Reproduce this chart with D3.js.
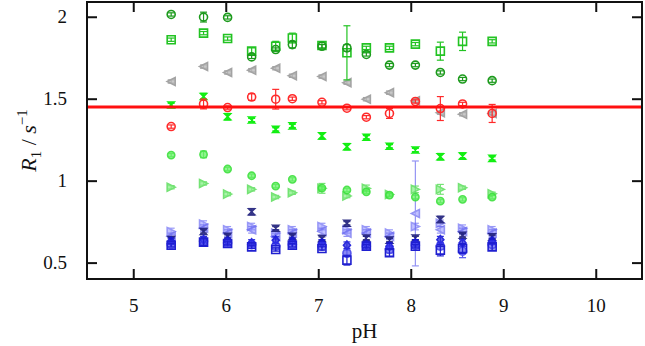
<!DOCTYPE html>
<html>
<head>
<meta charset="utf-8">
<script src="https://cdn.jsdelivr.net/npm/d3@7"></script>
<style>
  html, body { margin: 0; padding: 0; background: #fff; }
  svg { display: block; }
  text { font-family: 'Liberation Serif', 'DejaVu Serif', serif; }
</style>
</head>
<body>
<div id="chart"></div>
<script>
// pH columns
const phValues = [5.41, 5.76, 6.02, 6.28, 6.54, 6.72, 7.04, 7.31, 7.52, 7.77, 8.05, 8.32, 8.56, 8.88];

// R1 values for every series
const circleDark   = [2.014, 1.998, 1.996, 1.755, 1.80, 1.83, 1.82, 1.81, 1.77, 1.705, 1.705, 1.66, 1.62, 1.61];
const circleDarkErr = [0.01, 0.03, 0.01, 0.01, 0.01, 0.02, 0.01, 0.02, 0.01, 0.01, 0.01, 0.01, 0.01, 0.01];
const squareGreen  = [1.86, 1.90, 1.867, 1.79, 1.82, 1.87, 1.825, 1.78, 1.81, 1.81, 1.833, 1.79, 1.85, 1.85];
const squareGreenErr = [0.01, 0.01, 0.01, 0.02, 0.03, 0.03, 0.02, 0.165, 0.01, 0.01, 0.01, 0.055, 0.056, 0.01];
const triGray      = [1.605, 1.696, 1.66, 1.674, 1.686, 1.64, 1.635, 1.598, 1.497, 1.537, 1.487, 1.415, 1.405, 1.41];
const triGrayErr   = [0.01, 0.01, 0.01, 0.01, 0.01, 0.01, 0.01, 0.01, 0.01, 0.01, 0.01, 0.01, 0.01, 0.01];
const circleRed    = [1.33, 1.468, 1.446, 1.51, 1.497, 1.50, 1.478, 1.442, 1.387, 1.41, 1.483, 1.44, 1.468, 1.41];
const circleRedErr = [0.01, 0.03, 0.01, 0.02, 0.06, 0.01, 0.01, 0.01, 0.01, 0.03, 0.01, 0.073, 0.01, 0.055];
const hourGreen    = [1.462, 1.513, 1.39, 1.37, 1.313, 1.334, 1.273, 1.207, 1.265, 1.21, 1.187, 1.146, 1.15, 1.136];
const hourGreenErr = [0.01, 0.02, 0.02, 0.01, 0.01, 0.01, 0.02, 0.02, 0.01, 0.01, 0.01, 0.02, 0.02, 0.01];
const hexLight     = [1.156, 1.16, 1.071, 1.03, 0.967, 1.008, 0.955, 0.943, 0.932, 0.912, 0.90, 0.875, 0.886, 0.90];
const hexLightErr  = [0.01, 0.02, 0.01, 0.01, 0.01, 0.01, 0.01, 0.01, 0.01, 0.01, 0.01, 0.01, 0.01, 0.01];
const triRight     = [0.96, 0.983, 0.918, 0.947, 0.90, 0.926, 0.953, 0.906, 0.953, 0.916, 0.947, 0.947, 0.957, 0.92];
const triRightErr  = [0.01, 0.01, 0.01, 0.01, 0.01, 0.01, 0.03, 0.01, 0.02, 0.01, 0.02, 0.03, 0.01, 0.01];
const hourNavy     = [0.64, 0.69, 0.66, 0.81, 0.71, 0.66, 0.647, 0.74, 0.65, 0.637, 0.65, 0.763, 0.667, 0.657];
const hourNavyErr  = [0.01, 0.01, 0.01, 0.02, 0.01, 0.01, 0.01, 0.01, 0.01, 0.01, 0.01, 0.02, 0.01, 0.01];
const triRightBlue = [0.69, 0.735, 0.70, 0.72, 0.68, 0.70, 0.72, 0.70, 0.70, 0.68, 0.72, 0.74, 0.71, 0.70];
const triRightBlueErr = [0.02, 0.02, 0.02, 0.02, 0.02, 0.02, 0.02, 0.02, 0.02, 0.02, 0.02, 0.02, 0.02, 0.02];
const triLeftBlue  = [0.66, 0.71, 0.68, 0.70, 0.66, 0.68, 0.69, 0.68, 0.68, 0.66, 0.80, 0.70, 0.69, 0.68];
const triLeftBlueErr = [0.02, 0.02, 0.02, 0.02, 0.02, 0.02, 0.02, 0.02, 0.02, 0.02, 0.32, 0.02, 0.02, 0.02];
const diamondBlue  = [0.63, 0.64, 0.63, 0.62, 0.637, 0.63, 0.62, 0.606, 0.61, 0.60, 0.62, 0.64, 0.62, 0.63];
const diamondBlueErr = [0.02, 0.02, 0.02, 0.02, 0.02, 0.02, 0.02, 0.02, 0.02, 0.02, 0.02, 0.02, 0.02, 0.02];
const circleBlue   = [0.61, 0.63, 0.62, 0.61, 0.60, 0.61, 0.60, 0.557, 0.60, 0.58, 0.606, 0.60, 0.57, 0.61];
const circleBlueErr = [0.02, 0.02, 0.02, 0.02, 0.02, 0.02, 0.02, 0.02, 0.02, 0.02, 0.02, 0.02, 0.04, 0.02];
const squareBlue   = [0.606, 0.625, 0.617, 0.596, 0.58, 0.606, 0.586, 0.515, 0.60, 0.56, 0.60, 0.576, 0.586, 0.596];
const squareBlueErr = [0.01, 0.02, 0.01, 0.01, 0.01, 0.01, 0.01, 0.03, 0.01, 0.02, 0.01, 0.035, 0.03, 0.02];

// reference line
const refLine = 1.45;

// axis ticks
const xTicks = [5, 6, 7, 8, 9, 10];
const yTicks = [0.5, 1, 1.5, 2];
const yTickLabels = ["0.5", "1", "1.5", "2"];

const width = 645;
const height = 346;
const marginTop = 2;
const marginRight = 3;
const marginBottom = 67;
const marginLeft = 87;
const serif = "'Liberation Serif', 'DejaVu Serif', serif";

const x = d3.scaleLinear().domain([4.5, 10.5]).range([marginLeft, width - marginRight]);
const y = d3.scaleLinear().domain([0.4, 2.09]).range([height - marginBottom, marginTop]);

// marker paths, centred on 0,0
function shapePath(kind, r) {
    switch (kind) {
        case "circle":
            return d3.symbol(d3.symbolCircle, Math.PI * r * r)();
        case "square":
            return `M${-r},${-r}H${r}V${r}H${-r}Z`;
        case "diamond":
            return `M0,${-r * 1.2}L${r},0L0,${r * 1.2}L${-r},0Z`;
        case "left":
            return `M${-r},0L${r},${-r}L${r},${r}Z`;
        case "right":
            return `M${r},0L${-r},${-r}L${-r},${r}Z`;
        case "hour":
            return `M${-r},${-r}H${r}L${-r},${r}H${r}Z`;
    }
}

const series = [
    { v: triRightBlue, e: triRightBlueErr, kind: "right", r: 4, stroke: "#6f6ff5", fill: "#8c8cff", op: 0.7 },
    { v: triLeftBlue, e: triLeftBlueErr, kind: "left", r: 4, stroke: "#6868f0", fill: "#8a8aff", op: 0.7 },
    { v: hourNavy, e: hourNavyErr, kind: "hour", r: 3, stroke: "#1c1c7a", fill: "#1c1c7a", op: 0.9 },
    { v: diamondBlue, e: diamondBlueErr, kind: "diamond", r: 3.5, stroke: "#1515d8", fill: "#1515d8", op: 0.9 },
    { v: circleBlue, e: circleBlueErr, kind: "circle", r: 4, stroke: "#2b2be8", fill: "#3a3aee", op: 0.8 },
    { v: squareBlue, e: squareBlueErr, kind: "square", r: 4, stroke: "#1f1fd0", fill: "none", op: 1 },
    { v: triRight, e: triRightErr, kind: "right", r: 4, stroke: "#66e066", fill: "#80ee80", op: 0.9 },
    { v: hexLight, e: hexLightErr, kind: "circle", r: 3.6, stroke: "#3be03b", fill: "#5cf05c", op: 0.9 },
    { v: hourGreen, e: hourGreenErr, kind: "hour", r: 3, stroke: "#11ee11", fill: "#11ee11", op: 1 },
    { v: triGray, e: triGrayErr, kind: "left", r: 4, stroke: "#9a9a9a", fill: "#b0b0b0", op: 0.9 },
    { v: circleRed, e: circleRedErr, kind: "circle", r: 4, stroke: "#ff2a2a", fill: "none", op: 1 },
    { v: squareGreen, e: squareGreenErr, kind: "square", r: 4, stroke: "#22c322", fill: "none", op: 1 },
    { v: circleDark, e: circleDarkErr, kind: "circle", r: 4, stroke: "#1c9a1c", fill: "none", op: 1 }
];

const svg = d3.create("svg")
    .attr("width", width)
    .attr("height", height)
    .attr("viewBox", [0, 0, width, height])
    .attr("font-family", serif);

const plot = svg.append("g");

series.forEach(s => {
    const pts = phValues.map((p, i) => ({ p, v: s.v[i], e: s.e[i] }));
    const g = plot.append("g").attr("opacity", s.op);

    // error bars
    const eb = g.selectAll("g.eb").data(pts).join("g")
        .attr("stroke", s.stroke)
        .attr("stroke-width", 1.2);
    eb.append("line")
        .attr("x1", d => x(d.p)).attr("x2", d => x(d.p))
        .attr("y1", d => y(d.v - d.e)).attr("y2", d => y(d.v + d.e));
    eb.append("line")
        .attr("x1", d => x(d.p) - 3.5).attr("x2", d => x(d.p) + 3.5)
        .attr("y1", d => y(d.v - d.e)).attr("y2", d => y(d.v - d.e));
    eb.append("line")
        .attr("x1", d => x(d.p) - 3.5).attr("x2", d => x(d.p) + 3.5)
        .attr("y1", d => y(d.v + d.e)).attr("y2", d => y(d.v + d.e));

    // markers
    g.selectAll("path.m").data(pts).join("path")
        .attr("transform", d => `translate(${x(d.p)},${y(d.v)})`)
        .attr("d", shapePath(s.kind, s.r))
        .attr("fill", s.fill)
        .attr("fill-opacity", s.fill === "none" ? null : 0.75)
        .attr("stroke", s.stroke)
        .attr("stroke-width", 1.6);
});

// red reference line
svg.append("line")
    .attr("x1", x(4.5)).attr("x2", x(10.5))
    .attr("y1", y(refLine)).attr("y2", y(refLine))
    .attr("stroke", "#ff1010")
    .attr("stroke-width", 3);

// frame
svg.append("rect")
    .attr("x", x(4.5)).attr("y", y(2.09))
    .attr("width", x(10.5) - x(4.5))
    .attr("height", y(0.4) - y(2.09))
    .attr("fill", "none")
    .attr("stroke", "#111")
    .attr("stroke-width", 2);

// inward ticks on all four sides
const tickLen = 10;
const gx = svg.append("g")
    .attr("transform", `translate(0,${y(0.4)})`)
    .call(d3.axisBottom(x).tickValues(xTicks).tickSize(-tickLen).tickPadding(20).tickFormat(d3.format("d")));
const gxt = svg.append("g")
    .attr("transform", `translate(0,${y(2.09)})`)
    .call(d3.axisTop(x).tickValues(xTicks).tickSize(-tickLen).tickFormat(""));
const gy = svg.append("g")
    .attr("transform", `translate(${x(4.5)},0)`)
    .call(d3.axisLeft(y).tickValues(yTicks).tickSize(-tickLen).tickPadding(20)
        .tickFormat((d, i) => yTickLabels[i]));
const gyr = svg.append("g")
    .attr("transform", `translate(${x(10.5)},0)`)
    .call(d3.axisRight(y).tickValues(yTicks).tickSize(-tickLen).tickFormat(""));

[gx, gxt, gy, gyr].forEach(g => {
    g.attr("font-family", serif).attr("font-size", 19);
    g.select(".domain").remove();
    g.selectAll(".tick line").attr("stroke", "#111").attr("stroke-width", 2);
    g.selectAll(".tick text").attr("fill", "#111");
});

// axis titles
svg.append("text")
    .attr("x", (x(4.5) + x(10.5)) / 2)
    .attr("y", 338)
    .attr("text-anchor", "middle")
    .attr("font-size", 21)
    .attr("fill", "#111")
    .text("pH");

const yt = svg.append("text")
    .attr("transform", `translate(36,${(y(0.4) + y(2.09)) / 2}) rotate(-90)`)
    .attr("text-anchor", "middle")
    .attr("font-size", 22)
    .attr("fill", "#111");
yt.append("tspan").style("font-style", "italic").text("R");
yt.append("tspan").attr("dy", 5).attr("font-size", 15).text("1");
yt.append("tspan").attr("dy", -5).text(" / ");
yt.append("tspan").style("font-style", "italic").text("s");
yt.append("tspan").attr("dy", -9).attr("font-size", 15).text("−1");

document.getElementById("chart").appendChild(svg.node());
</script>
</body>
</html>
